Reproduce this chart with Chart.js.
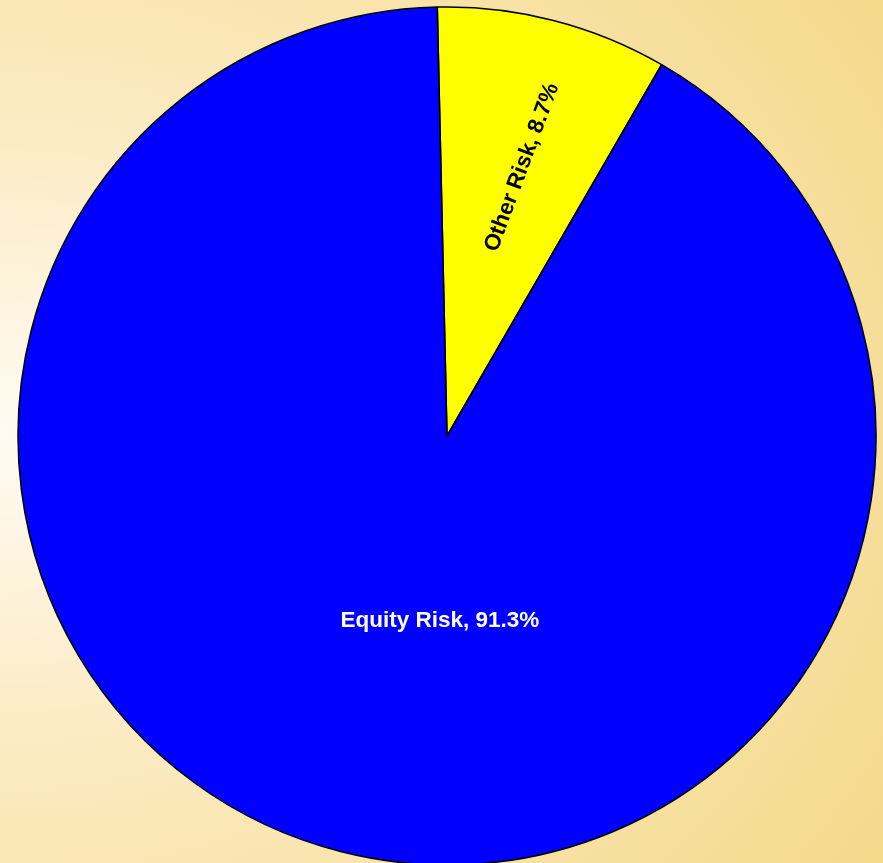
<!DOCTYPE html>
<html>
<head>
<meta charset="utf-8">
<script src="https://cdn.jsdelivr.net/npm/chart.js@4/dist/chart.umd.min.js"></script>
<style>
  html, body { margin: 0; padding: 0; overflow: hidden; }
  body {
    width: 883px; height: 863px;
    background: radial-gradient(ellipse 140% 110% at 0% 50%, #fffbf3 0%, #fcecc6 30%, #f7e0a0 65%, #f2d47a 100%);
  }
  #riskPie { position: absolute; left: 0; top: 0; }
</style>
</head>
<body>
<canvas id="riskPie" width="883" height="863"></canvas>
<script>
// categorieen en waarden (in procent)
let labels = ['Other Risk', 'Equity Risk'];
let values = [8.7, 91.3];
let colors = ['#FFFF00', '#0000FF'];
let labelColors = ['#000000', '#FFFFFF'];

// eigen plugin voor de labels in de taartpunten (geen datalabels plugin beschikbaar)
const sliceLabels = {
  id: 'sliceLabels',
  afterDatasetsDraw(chart, args, opts) {
    const ctx = chart.ctx;
    const meta = chart.getDatasetMeta(0);
    meta.data.forEach((arc, i) => {
      const p = opts.place[i];
      const mid = (arc.startAngle + arc.endAngle) / 2;
      const a = p.angle !== undefined ? (p.angle - 90) * Math.PI / 180 : mid;
      const r = arc.outerRadius * p.r;
      const x = arc.x + Math.cos(a) * r;
      const y = arc.y + Math.sin(a) * r;
      ctx.save();
      ctx.translate(x, y);
      if (p.rotate) ctx.rotate(mid + p.rotate * Math.PI / 180);
      ctx.font = 'bold 22.5px "Liberation Sans", Arial, sans-serif';
      ctx.fillStyle = labelColors[i];
      ctx.textAlign = 'center';
      ctx.textBaseline = 'middle';
      ctx.fillText(labels[i] + ', ' + values[i].toFixed(1) + '%', 0, 0);
      ctx.restore();
    });
  }
};

let ctx = document.getElementById('riskPie').getContext('2d');

let chart = new Chart(ctx, {
  type: 'pie',
  data: {
    labels: labels,
    datasets: [{
      data: values,
      backgroundColor: colors,
      borderColor: '#000000',
      borderWidth: 1.5,
      radius: 429,
      clip: false
    }]
  },
  options: {
    responsive: false,
    animation: false,
    rotation: -1.3,
    layout: { padding: { left: 11, top: 9, right: 0, bottom: 0 } },
    plugins: {
      legend: { display: false },
      tooltip: { enabled: false },
      sliceLabels: {
        place: [
          { r: 0.65, angle: 15.6, rotate: 6 },
          { r: 0.43, angle: 182.2 }
        ]
      }
    }
  },
  plugins: [sliceLabels]
});
</script>
</body>
</html>
